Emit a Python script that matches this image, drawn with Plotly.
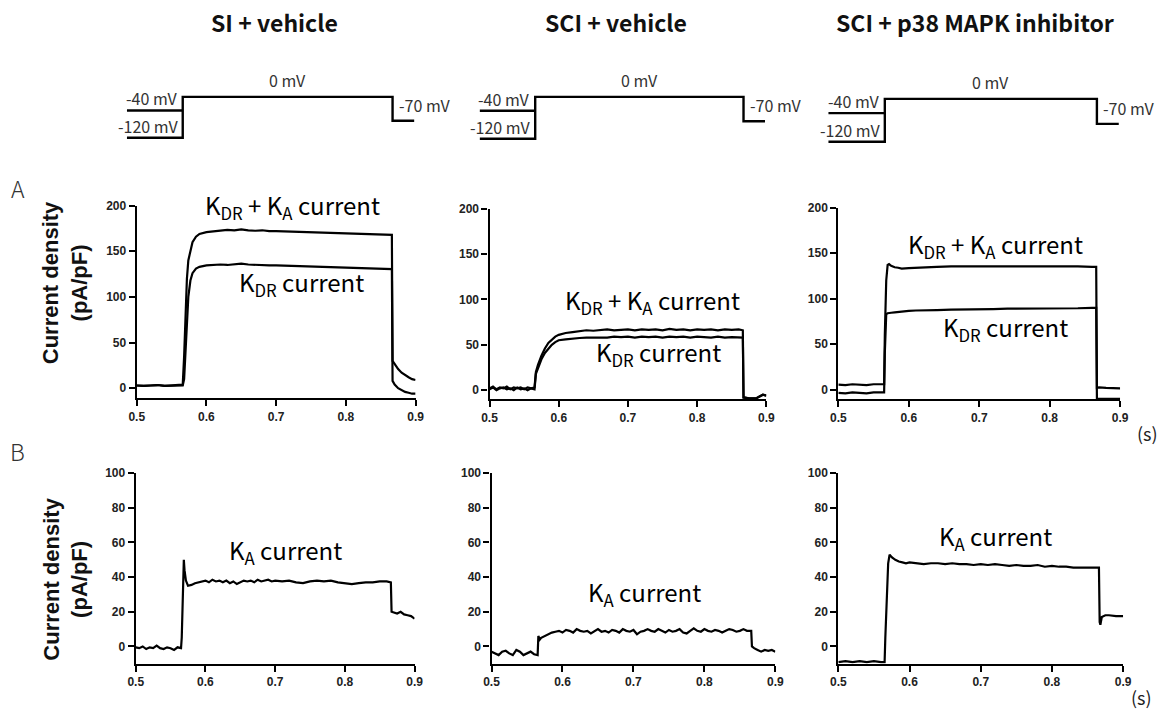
import plotly.graph_objects as go

W, H = 1167, 711

# ---------------- data ----------------
tick_x = [0.5, 0.6, 0.7, 0.8, 0.9]
tick_x_text = ["0.5", "0.6", "0.7", "0.8", "0.9"]
tick_yA = [0, 50, 100, 150, 200]
tick_yB = [0, 20, 40, 60, 80, 100]

titles = ["SI + vehicle", "SCI + vehicle", "SCI + p38 MAPK inhibitor"]

# voltage protocol (s, mV)
prot_t = [0.486, 0.566, 0.566, 0.867, 0.867, 0.898]
prot_v = [-120, -120, 0, 0, -70, -70]
prot_pre_t = [0.486, 0.566]
prot_pre_v = [-40, -40]

# Panel A, SI + vehicle
A1_t = [0.500, 0.510, 0.520, 0.530, 0.540, 0.550, 0.560,
        0.566, 0.568, 0.570, 0.572, 0.574, 0.577, 0.580, 0.585, 0.590,
        0.600, 0.610, 0.620, 0.630, 0.640, 0.650, 0.660, 0.670, 0.680, 0.690, 0.700,
        0.720, 0.740, 0.760, 0.780, 0.800, 0.820, 0.840, 0.860,
        0.866, 0.867,
        0.870, 0.875, 0.880, 0.885, 0.890, 0.895, 0.900]
A1_kdrka = [3, 2.5, 3, 3.5, 2.5, 3, 3,
            4, 35, 85, 120, 140, 152, 160, 166, 169,
            171, 172, 173, 173.5, 173, 174, 173, 172.5, 173, 172, 172,
            171.5, 171, 170.5, 170, 169.5, 169, 168.5, 168,
            168, 30,
            26, 21, 17, 14, 12, 10, 9]
A1_kdr = [3, 2.5, 3, 3.5, 2.5, 3, 3,
          3, 10, 40, 75, 100, 118, 126, 131, 133,
          134.5, 135, 135.5, 135, 136, 136.5, 135.5, 135, 135, 134.5, 134.5,
          134, 134, 133.5, 133, 132.5, 132, 131.5, 130.5,
          130.5, 8,
          4, 0, -2, -4, -5, -6, -6]

# Panel A, SCI + vehicle
A2_t = [0.500, 0.505, 0.510, 0.515, 0.520, 0.525, 0.530, 0.535, 0.540, 0.545, 0.550, 0.555, 0.560, 0.565,
        0.567, 0.570, 0.575, 0.580, 0.585, 0.590, 0.595, 0.600,
        0.610, 0.620, 0.630, 0.640, 0.650, 0.660, 0.670, 0.680, 0.690, 0.700,
        0.710, 0.720, 0.730, 0.740, 0.750, 0.760, 0.770, 0.780, 0.790, 0.800,
        0.810, 0.820, 0.830, 0.840, 0.850, 0.860,
        0.866, 0.867,
        0.875, 0.885, 0.890, 0.895, 0.900]
A2_kdrka = [2, 4, 1, 3, 2, 4, 1, 3, 2, 3, 1, 3, 2, 3,
            20, 28, 38, 46, 52, 56, 59, 61,
            63, 64, 65, 66, 65.5, 66, 67, 66, 66.5, 67,
            66, 67, 66.5, 67, 66, 67.5, 66.5, 67, 66, 67,
            66.5, 67, 66, 67, 66.5, 67,
            66, -8,
            -9, -9, -7, -5, -6]
A2_kdr = [1, 3, 0, 2, 3, 1, 2, 0, 3, 1, 2, 0, 2, 1,
          18, 25, 34, 41, 46, 50, 53, 55,
          56, 57, 57.5, 58, 58, 58.5, 58, 59, 58.5, 59,
          58, 59, 58.5, 59, 58, 59, 58.5, 59, 58, 59,
          58.5, 58, 59, 58, 58.5, 58,
          58, -8,
          -9, -9, -7, -5, -6]

# Panel A, SCI + p38 MAPK inhibitor
A3_t = [0.500, 0.510, 0.520, 0.530, 0.540, 0.550, 0.560,
        0.565, 0.566, 0.568, 0.570, 0.572, 0.575, 0.580, 0.585, 0.590,
        0.600, 0.610, 0.620,
        0.640, 0.660, 0.680, 0.700, 0.720, 0.740, 0.760, 0.780, 0.800, 0.820, 0.840, 0.860,
        0.866, 0.867,
        0.870, 0.880, 0.890, 0.900]
A3_kdrka = [5.5, 5, 6, 5.5, 5, 6, 5.5,
            6, 60, 120, 137, 138, 136, 134.5, 134, 133,
            133.5, 134, 134.5,
            135, 135.5, 135.5, 136, 135.5, 136, 135.5, 136, 136, 135.5, 135.5, 135,
            135, 2,
            2.5, 2, 2, 1.5]
A3_kdr = [-3.5, -4, -3, -3.5, -4, -3, -3.5,
          -3, 40, 83, 84, 84, 84.5, 85, 85.5, 86,
          86.5, 87, 87,
          87.5, 88, 88, 88.5, 88.5, 89, 89, 89, 89.5, 89.5, 89.5, 90,
          90, -10,
          -10, -10, -10, -10]

# Panel B, K_A current
B1_t = [0.500, 0.505, 0.510, 0.515, 0.520, 0.525, 0.530, 0.535, 0.540, 0.545, 0.550, 0.555, 0.560, 0.565,
        0.566, 0.567, 0.568, 0.569, 0.570, 0.572, 0.575,
        0.580, 0.585, 0.590, 0.595, 0.600, 0.605, 0.610, 0.615, 0.620, 0.625,
        0.630, 0.635, 0.640, 0.645, 0.650, 0.655, 0.660, 0.665, 0.670, 0.675,
        0.680, 0.685, 0.690, 0.695, 0.700,
        0.710, 0.720, 0.730, 0.740, 0.750, 0.760, 0.770, 0.780, 0.790, 0.800,
        0.810, 0.820, 0.830, 0.840, 0.850, 0.860,
        0.866, 0.867,
        0.870, 0.875, 0.880, 0.885, 0.890, 0.895, 0.900]
B1_ka = [-0.5, -1, 0, -1.5, -0.5, -1, 0.5, -1, -1.5, -0.5, -1, -2, -0.5, -1,
         5, 22, 45, 50, 44, 38, 35,
         35.5, 36.5, 37, 37.5, 38, 37, 38.5, 37.5, 38, 37,
         38, 36.5, 37.5, 36, 37, 38, 37.5, 38, 37, 38.5,
         37.5, 38, 38.5, 37.5, 38,
         37.5, 38, 37, 36.5, 37.5, 38, 37.5, 38, 37, 36.5,
         36, 36.5, 37, 37, 37.5, 37.5,
         37, 20,
         19.5, 19, 20, 18.5, 18, 17.5, 16]

B2_t = [0.500, 0.505, 0.510, 0.515, 0.520, 0.525, 0.530, 0.535, 0.540, 0.545, 0.550, 0.555, 0.560, 0.565,
        0.566, 0.568, 0.570,
        0.575, 0.580, 0.585, 0.590, 0.595, 0.600, 0.605, 0.610, 0.615, 0.620,
        0.625, 0.630, 0.635, 0.640, 0.645, 0.650, 0.655, 0.660, 0.665, 0.670,
        0.675, 0.680, 0.685, 0.690, 0.695, 0.700, 0.705, 0.710, 0.715, 0.720,
        0.725, 0.730, 0.735, 0.740, 0.745, 0.750, 0.755, 0.760, 0.765, 0.770,
        0.775, 0.780, 0.785, 0.790, 0.795, 0.800, 0.805, 0.810, 0.815, 0.820,
        0.825, 0.830, 0.835, 0.840, 0.845, 0.850, 0.855, 0.860,
        0.866, 0.867,
        0.870, 0.875, 0.880, 0.885, 0.890, 0.895, 0.900]
B2_ka = [-3, -4, -5, -3, -2.5, -4, -5, -2, -3, -5, -4, -3, -4.5, -5,
         6, 4, 5,
         6, 7, 8, 8.5, 9, 8, 9.5, 9, 8, 10,
         9, 8.5, 9, 7.5, 9, 10, 8.5, 9, 8, 9.5,
         9, 8, 10, 9, 8.5, 9.5, 7, 8.5, 9, 10,
         9, 8.5, 10, 9, 8, 9.5, 8.5, 9, 10, 8,
         7.5, 9, 10.5, 9, 8.5, 10, 9, 8.5, 9.5, 9,
         8, 9, 10, 9.5, 8.5, 9, 10, 9,
         9, 0,
         -1, -2, -3, -2, -2.5, -2, -3]

B3_t = [0.500, 0.510, 0.520, 0.530, 0.540, 0.550, 0.560,
        0.565, 0.566, 0.568, 0.570, 0.572, 0.575, 0.580, 0.585, 0.590, 0.595, 0.600,
        0.610, 0.620, 0.630, 0.640, 0.650, 0.660, 0.670, 0.680, 0.690, 0.700,
        0.710, 0.720, 0.730, 0.740, 0.750, 0.760, 0.770, 0.780, 0.790, 0.800,
        0.810, 0.820, 0.830, 0.840, 0.850, 0.860,
        0.866, 0.867, 0.868,
        0.870, 0.875, 0.880, 0.890, 0.900]
B3_ka = [-9, -8.5, -9, -8.5, -9, -8.5, -9,
         -9, 5, 30, 48, 53, 51.5, 50, 49, 48.5, 48, 48.5,
         48, 47.5, 48, 48, 47.5, 48, 47.5, 47.5, 47, 47.5,
         47, 47.5, 47, 46.5, 47, 46.5, 46.5, 47, 46, 46.5,
         46, 46, 45.5, 45.5, 45.5, 45.5,
         45.5, 14, 12.5,
         17, 18, 18, 17.5, 17.5]

# ---------------- layout helpers ----------------
# the captured page shows the figure slightly offset and scaled; place things so the
# photographed positions land where the reference has them
OX, SX = 6.2, 0.986
OY, SY = 6.0, 0.992


def fx(p):
    return ((p - OX) / SX) / W


def fy(p):
    return 1 - ((p - OY) / SY) / H


# pixel boxes of the six current panels: (x0, x1, y_top, y_bottom, yrange, yticks)
panels = [
    (135, 414, 205, 398, [-11, 200], tick_yA),
    (488, 765, 208, 399, [-10, 200], tick_yA),
    (837, 1119, 207, 399, [-10.5, 200], tick_yA),
    (134, 413, 473, 664, [-10, 100], tick_yB),
    (490, 774, 473, 664, [-10, 100], tick_yB),
    (837, 1122, 473, 664, [-10, 100], tick_yB),
]
traces = [
    [(A1_t, A1_kdrka), (A1_t, A1_kdr)],
    [(A2_t, A2_kdrka), (A2_t, A2_kdr)],
    [(A3_t, A3_kdrka), (A3_t, A3_kdr)],
    [(B1_t, B1_ka)],
    [(B2_t, B2_ka)],
    [(B3_t, B3_ka)],
]

fig = go.Figure()
layout = {}
tickfont = dict(family="Liberation Sans", size=12, color="#222", weight="bold")

for i, (x0, x1, yt, yb, yr, yt_vals) in enumerate(panels):
    n = i + 1
    sfx = "" if n == 1 else str(n)
    layout["xaxis" + sfx] = dict(domain=[fx(x0), fx(x1)], range=[0.5, 0.9], anchor="y" + sfx,
                                 tickvals=tick_x, ticktext=tick_x_text, showline=True, linecolor="black",
                                 linewidth=2.2, ticks="outside", ticklen=6, tickwidth=2, tickcolor="black",
                                 showgrid=False, zeroline=False, tickfont=tickfont, fixedrange=True)
    layout["yaxis" + sfx] = dict(domain=[fy(yb), fy(yt)], range=yr, anchor="x" + sfx,
                                 tickvals=yt_vals, showline=True, linecolor="black", linewidth=2.2,
                                 ticks="outside", ticklen=6, tickwidth=2, tickcolor="black",
                                 showgrid=False, zeroline=False, tickfont=tickfont, fixedrange=True)
    for (tt, vv) in traces[i]:
        fig.add_trace(go.Scatter(x=tt, y=vv, mode="lines", line=dict(color="black", width=2.2),
                                 xaxis="x" + sfx, yaxis="y" + sfx,
                                 showlegend=False, hoverinfo="skip"))

# protocol axes (same time scale as the A panels)
prot_boxes = [(0, 96, 137), (1, 96, 138), (2, 98, 141)]
pr_lo, pr_hi = 0.47, 0.91
v_lo, v_hi = -126, 6
annotations = []
prot_font = dict(family="Noto Sans CJK JP", size=16, color="#333")
for k, (pi, p0, p1) in enumerate(prot_boxes):
    x0, x1 = panels[pi][0], panels[pi][1]
    s = (x1 - x0) / 0.4
    dx0 = x0 + (pr_lo - 0.5) * s
    dx1 = x0 + (pr_hi - 0.5) * s
    pv = (p1 - p0) / 120.0
    dy_top = p0 - v_hi * pv
    dy_bot = p1 + (-120 - v_lo) * pv
    n = 7 + k
    layout[f"xaxis{n}"] = dict(domain=[fx(dx0), fx(dx1)], range=[pr_lo, pr_hi], visible=False,
                               anchor=f"y{n}", fixedrange=True)
    layout[f"yaxis{n}"] = dict(domain=[fy(dy_bot), fy(dy_top)], range=[v_lo, v_hi], visible=False,
                               anchor=f"x{n}", fixedrange=True)
    for (tt, vv) in [(prot_t, prot_v), (prot_pre_t, prot_pre_v)]:
        fig.add_trace(go.Scatter(x=tt, y=vv, mode="lines", line=dict(color="black", width=2.4),
                                 xaxis=f"x{n}", yaxis=f"y{n}", showlegend=False, hoverinfo="skip"))
    ax, ay = f"x{n}", f"y{n}"
    annotations += [
        dict(x=prot_pre_t[1], y=prot_pre_v[0], xref=ax, yref=ay, text="-40 mV", showarrow=False,
             xanchor="right", yanchor="bottom", xshift=-3, yshift=-2, font=prot_font),
        dict(x=prot_t[1], y=prot_v[0], xref=ax, yref=ay, text="-120 mV", showarrow=False,
             xanchor="right", yanchor="bottom", xshift=-3, yshift=-2, font=prot_font),
        dict(x=(prot_t[2] + prot_t[3]) / 2, y=prot_v[2], xref=ax, yref=ay, text="0 mV",
             showarrow=False, xanchor="center", yanchor="bottom", yshift=3, font=prot_font),
        dict(x=prot_t[4] + 0.006, y=prot_v[4], xref=ax, yref=ay, text="-70 mV", showarrow=False,
             xanchor="left", yanchor="bottom", yshift=2, font=prot_font),
    ]

# titles
title_font = dict(family="Noto Sans CJK JP", size=23, color="#111", weight="bold")
for txt, cx in zip(titles, [273, 615, 974]):
    annotations.append(dict(x=fx(cx), y=fy(21.5), xref="paper", yref="paper", text=txt,
                            showarrow=False, xanchor="center", yanchor="middle", font=title_font))

lab_font = dict(family="Noto Sans CJK JP", size=24, color="#000")
labels = [
    ("K<sub>DR</sub> + K<sub>A</sub> current", 291, 205),
    ("K<sub>DR</sub> current", 300, 283),
    ("K<sub>DR</sub> + K<sub>A</sub> current", 651, 301),
    ("K<sub>DR</sub> current", 657, 353),
    ("K<sub>DR</sub> + K<sub>A</sub> current", 994, 244),
    ("K<sub>DR</sub> current", 1004, 328),
    ("K<sub>A</sub> current", 284, 551),
    ("K<sub>A</sub> current", 643, 593),
    ("K<sub>A</sub> current", 994, 537),
]
for txt, cx, cy in labels:
    annotations.append(dict(x=fx(cx), y=fy(cy), xref="paper", yref="paper", text=txt,
                            showarrow=False, xanchor="center", yanchor="middle", font=lab_font))

# panel letters, axis titles, unit
letter_font = dict(family="Noto Sans CJK JP", size=23, color="#333", weight=300)
annotations += [
    dict(x=fx(16), y=fy(187), xref="paper", yref="paper", text="A", showarrow=False,
         xanchor="center", yanchor="middle", font=letter_font),
    dict(x=fx(16), y=fy(451), xref="paper", yref="paper", text="B", showarrow=False,
         xanchor="center", yanchor="middle", font=letter_font),
]
ytitle_font = dict(family="Liberation Sans", size=22, color="#111", weight="bold")
for cy in [282, 579]:
    annotations.append(dict(x=fx(64), y=fy(cy), xref="paper", yref="paper",
                            text="Current density<br>(pA/pF)", textangle=-90, showarrow=False,
                            xanchor="center", yanchor="middle", font=ytitle_font))
unit_font = dict(family="Noto Sans CJK JP", size=18, color="#222")
for cx, cy in [(1146, 433), (1140, 697)]:
    annotations.append(dict(x=fx(cx), y=fy(cy), xref="paper", yref="paper", text="(s)",
                            showarrow=False, xanchor="center", yanchor="middle", font=unit_font))

fig.update_layout(autosize=True, margin=dict(l=0, r=0, t=0, b=0),
                  paper_bgcolor="white", plot_bgcolor="white", annotations=annotations,
                  showlegend=False, **layout)

fit_page = (
    "document.documentElement.style.margin='0';"
    "document.documentElement.style.overflow='hidden';"
    "document.body.style.margin='0';document.body.style.padding='0';"
    "document.body.style.overflow='hidden';"
    "var gd=document.getElementById('{plot_id}');"
    "if(gd){gd.style.position='fixed';gd.style.left='0px';gd.style.top='0px';"
    "gd.style.width='100vw';gd.style.height='100vh';Plotly.Plots.resize(gd);}"
)
fig.write_html("out.html", default_width="100vw", default_height="100vh",
               config={"displayModeBar": False, "responsive": True},
               post_script=fit_page)
